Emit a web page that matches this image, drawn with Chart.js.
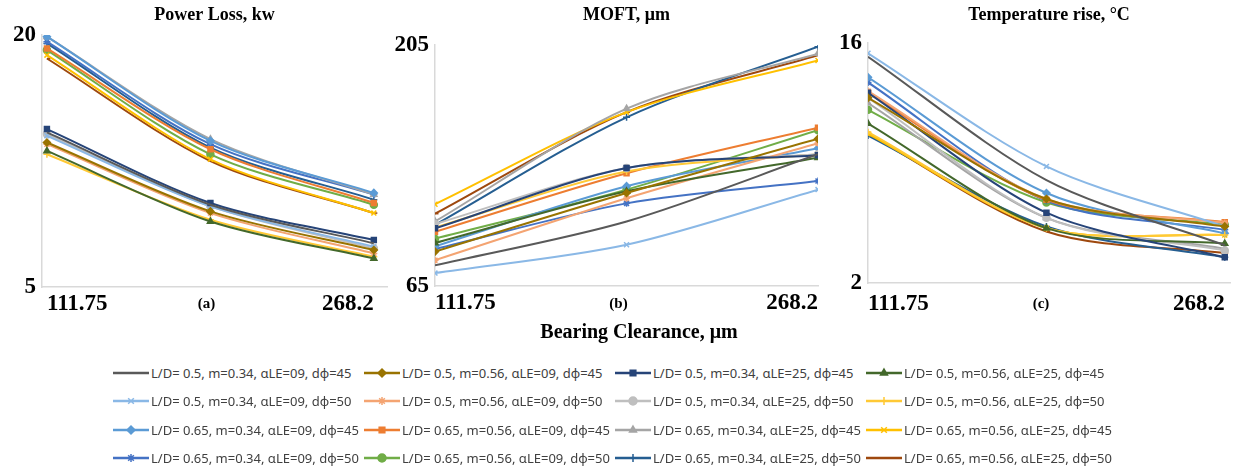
<!DOCTYPE html>
<html>
<head>
<meta charset="utf-8">
<script src="https://cdn.jsdelivr.net/npm/chart.js@4.4.1/dist/chart.umd.min.js"></script>
<style>
  body { margin: 0; background: #fff; width: 1244px; height: 469px; overflow: hidden; position: relative; }
  canvas.panel { position: absolute; top: 0; }
  #xlabel { position: absolute; left: 639px; top: 320px; transform: translateX(-50%); white-space: nowrap;
            font: bold 20px "Liberation Serif", serif; color: #000; }
  #legend { position: absolute; left: 113px; top: 359px; display: grid;
            grid-template-columns: repeat(4, 251px); grid-auto-rows: 28.3px; }
  .item { display: flex; align-items: center; white-space: nowrap; font: 13px "Noto Sans", sans-serif; color: #404040; }
  .item canvas { margin-right: 2px; }
</style>
</head>
<body>
<canvas id="powerChart" class="panel" style="left:0px"></canvas>
<canvas id="moftChart" class="panel" style="left:380px"></canvas>
<canvas id="tempChart" class="panel" style="left:820px"></canvas>
<div id="xlabel">Bearing Clearance, μm</div>
<div id="legend"></div>
<script>
// bearing clearance, um
const clearance = [111.75, 190, 268.2];
const xTicks = [111.75, 268.2];

const seriesNames = [
  'L/D= 0.5, m=0.34, αLE=09, dϕ=45', 'L/D= 0.5, m=0.56, αLE=09, dϕ=45',
  'L/D= 0.5, m=0.34, αLE=25, dϕ=45', 'L/D= 0.5, m=0.56, αLE=25, dϕ=45',
  'L/D= 0.5, m=0.34, αLE=09, dϕ=50', 'L/D= 0.5, m=0.56, αLE=09, dϕ=50',
  'L/D= 0.5, m=0.34, αLE=25, dϕ=50', 'L/D= 0.5, m=0.56, αLE=25, dϕ=50',
  'L/D= 0.65, m=0.34, αLE=09, dϕ=45', 'L/D= 0.65, m=0.56, αLE=09, dϕ=45',
  'L/D= 0.65, m=0.34, αLE=25, dϕ=45', 'L/D= 0.65, m=0.56, αLE=25, dϕ=45',
  'L/D= 0.65, m=0.34, αLE=09, dϕ=50', 'L/D= 0.65, m=0.56, αLE=09, dϕ=50',
  'L/D= 0.65, m=0.34, αLE=25, dϕ=50', 'L/D= 0.65, m=0.56, αLE=25, dϕ=50'
];

// power loss, kw
const powerLoss = [
  [14.2, 9.9, 7.6], [13.6, 9.5, 7.2], [14.4, 10.0, 7.8], [13.1, 8.9, 6.7],
  [14.0, 9.8, 7.4], [13.5, 9.4, 7.0], [14.1, 9.8, 7.3], [12.9, 9.0, 6.8],
  [19.9, 13.7, 10.6], [19.2, 13.2, 10.0], [19.9, 13.8, 10.5], [18.8, 12.6, 9.4],
  [19.6, 13.5, 10.5], [19.1, 12.9, 9.9], [19.5, 13.3, 10.2], [18.6, 12.5, 9.4]
];
const powerTicks = [5, 20];

// MOFT, um
const moft = [
  [77, 102.5, 141.5], [85, 119, 150.5], [98.5, 133.5, 141], [90, 120, 139.5],
  [72.5, 89, 121], [80, 116, 148], [101, 133.5, 141.5], [99, 131.5, 141.5],
  [88, 123, 145], [96.5, 130.5, 157], [102.5, 168, 200], [112.5, 166, 196],
  [86.5, 113, 126], [92.5, 121, 155.5], [100.5, 163, 204], [107, 166, 199]
];
const moftTicks = [65, 205];

// temperature rise, C
const tempRise = [
  [15.2, 8.0, 4.2], [12.8, 6.9, 5.3], [13.1, 6.1, 3.5], [11.3, 5.2, 4.3],
  [15.4, 8.8, 5.3], [13.2, 6.9, 5.5], [12.8, 5.8, 3.9], [10.8, 5.2, 4.8],
  [14.0, 7.25, 4.9], [13.1, 6.85, 5.55], [12.5, 5.8, 4.0], [10.7, 5.2, 4.8],
  [13.7, 6.8, 5.1], [12.1, 6.7, 5.4], [10.6, 5.3, 3.5], [10.7, 5.0, 3.75]
];
const tempTicks = [2, 16];

const seriesColors = [
  '#595959', '#997300', '#264478', '#43682B',
  '#8AB8E6', '#F4A472', '#BFBFBF', '#FFC935',
  '#5B9BD5', '#ED7D31', '#A5A5A5', '#FFC000',
  '#4472C4', '#70AD47', '#255E91', '#9E480E'
];
const seriesMarkers = [
  false, 'rectRot', 'rect', 'triangle',
  'crossRot', 'star', 'circle', 'cross',
  'rectRot', 'rect', 'triangle', 'crossRot',
  'star', 'circle', 'cross', 'dash'
];

const serif = 'Liberation Serif';

// panel title above and (a)/(b)/(c) tag below the plot area
const panelText = {
  id: 'panelText',
  afterDraw(chart, args, opts) {
    const { ctx, chartArea } = chart;
    const cx = (chartArea.left + chartArea.right) / 2;
    ctx.save();
    ctx.fillStyle = '#000';
    ctx.textAlign = 'center';
    ctx.textBaseline = 'middle';
    ctx.font = 'bold 18px "' + serif + '"';
    ctx.fillText(opts.title, cx, 15);
    ctx.font = 'bold 15px "' + serif + '"';
    ctx.fillText(opts.tag, cx - 8, 304);
    ctx.restore();
  }
};

function makePanel(id, values, yTicks, box) {
  const canvas = document.getElementById(id);
  canvas.width = box.width;
  canvas.height = 320;
  const datasets = seriesNames.map((name, i) => ({
    label: name,
    data: clearance.map((x, j) => ({ x: x, y: values[i][j] })),
    borderColor: seriesColors[i],
    backgroundColor: seriesColors[i],
    borderWidth: 2,
    pointStyle: seriesMarkers[i],
    pointRadius: seriesMarkers[i] ? 3.5 : 0,
    pointBorderWidth: 1.5,
    tension: 0.3
  }));

  return new Chart(canvas, {
    type: 'line',
    data: { datasets: datasets },
    plugins: [panelText],
    options: {
      responsive: false,
      animation: false,
      layout: { padding: { top: box.top, right: box.right, left: 0, bottom: 0 } },
      plugins: {
        legend: { display: false },
        tooltip: { enabled: false },
        panelText: { title: box.title, tag: box.tag }
      },
      scales: {
        x: {
          type: 'linear',
          min: box.xMin,
          max: box.xMax,
          afterBuildTicks: s => { s.ticks = xTicks.map(v => ({ value: v })); },
          afterFit: s => { s.height = box.xHeight; },
          grid: { display: false, drawTicks: false },
          border: { color: '#d9d9d9', width: 1.5 },
          ticks: {
            autoSkip: false, maxRotation: 0, align: 'inner', padding: box.xPad,
            color: '#000', font: { family: serif, weight: 'bold', size: 23 },
            callback: v => String(v)
          }
        },
        y: {
          min: yTicks[0],
          max: yTicks[1],
          afterBuildTicks: s => { s.ticks = yTicks.map(v => ({ value: v })); },
          afterFit: s => { s.width = box.yWidth; },
          grid: { display: false, drawTicks: false },
          border: { color: '#d9d9d9', width: 1.5 },
          ticks: {
            autoSkip: false, padding: 6,
            color: '#000', font: { family: serif, weight: 'bold', size: 23 }
          }
        }
      }
    }
  });
}

makePanel('powerChart', powerLoss, powerTicks, {
  title: 'Power Loss, kw', tag: '(a)', width: 400, top: 35, right: 13,
  yWidth: 42, xHeight: 33, xPad: 3, xMin: 109.4, xMax: 274.5
});
makePanel('moftChart', moft, moftTicks, {
  title: 'MOFT, μm', tag: '(b)', width: 450, top: 45, right: 12,
  yWidth: 55, xHeight: 34, xPad: 3, xMin: 111.75, xMax: 268.2
});
makePanel('tempChart', tempRise, tempTicks, {
  title: 'Temperature rise, °C', tag: '(c)', width: 424, top: 43, right: 14,
  yWidth: 48, xHeight: 37, xPad: 7, xMin: 111.75, xMax: 270.5
});

// legend: 4 columns x 4 rows below the panels
const legendEl = document.getElementById('legend');
seriesNames.forEach((name, i) => {
  const item = document.createElement('div');
  item.className = 'item';
  const c = document.createElement('canvas');
  c.width = 36; c.height = 14;
  const ctx = c.getContext('2d');
  ctx.strokeStyle = seriesColors[i];
  ctx.fillStyle = seriesColors[i];
  ctx.lineWidth = 2.5;
  ctx.beginPath(); ctx.moveTo(0, 7); ctx.lineTo(36, 7); ctx.stroke();
  if (seriesMarkers[i] && Chart.helpers && Chart.helpers.drawPoint) {
    ctx.lineWidth = 1.5;
    Chart.helpers.drawPoint(ctx, { pointStyle: seriesMarkers[i], radius: 4, rotation: 0, borderWidth: 1.5 }, 18, 7);
  }
  const t = document.createElement('span');
  t.textContent = name;
  item.appendChild(c);
  item.appendChild(t);
  legendEl.appendChild(item);
});
</script>
</body>
</html>
